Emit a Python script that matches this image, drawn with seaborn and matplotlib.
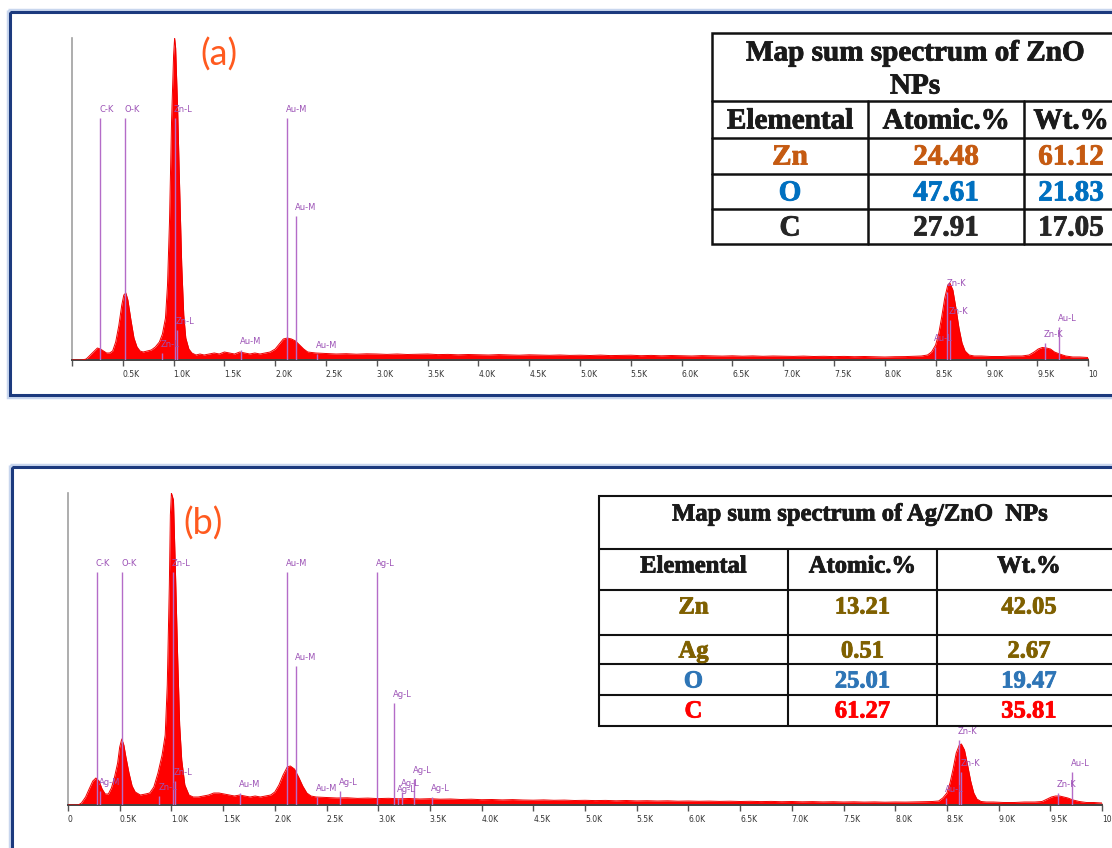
import numpy as np
import pandas as pd
import matplotlib
matplotlib.use("Agg")
import matplotlib.pyplot as plt
import matplotlib.patheffects as pe
import seaborn as sns
from matplotlib.patches import Rectangle

# ---------------- DATA ----------------
# (a) ZnO NPs : EDX spectrum (energy keV, counts a.u.)
energy_a_low = [0.00, 0.10, 0.14, 0.18, 0.22, 0.25, 0.28, 0.31, 0.34, 0.37, 0.40, 0.43, 0.46, 0.49,
                0.51, 0.53, 0.55, 0.58, 0.61, 0.64, 0.67, 0.70, 0.74, 0.78, 0.82, 0.86, 0.89, 0.92,
                0.94, 0.96, 0.98, 1.00, 1.01, 1.02, 1.04, 1.06, 1.08, 1.10, 1.12, 1.15, 1.18, 1.22,
                1.26, 1.30, 1.35, 1.40, 1.45, 1.50, 1.55, 1.60, 1.65, 1.70, 1.75, 1.80, 1.85, 1.90,
                1.95, 2.00, 2.04, 2.08, 2.12, 2.16, 2.20, 2.24, 2.28, 2.32]
counts_a_low = [0, 0, 1, 5, 9, 12, 11, 9, 7, 7, 9, 18, 34, 55,
                65, 67, 60, 40, 22, 13, 9, 8, 9, 10, 13, 18, 26, 42,
                75, 140, 240, 305, 322, 312, 250, 170, 95, 45, 22, 11, 7, 5,
                6, 5, 6, 7, 6, 8, 7, 6, 8, 7, 6, 7, 6, 7,
                8, 11, 16, 21, 22, 21, 19, 15, 11, 8]
bg_energy = [2.4, 2.5, 2.6, 2.7, 2.8, 2.9, 3.0, 3.1, 3.2, 3.3, 3.4, 3.5, 3.6, 3.7, 3.8, 3.9,
             4.0, 4.1, 4.2, 4.3, 4.4, 4.5, 4.6, 4.7, 4.8, 4.9, 5.0, 5.1, 5.2, 5.3, 5.4, 5.5,
             5.6, 5.7, 5.8, 5.9, 6.0, 6.1, 6.2, 6.3, 6.4, 6.5, 6.6, 6.7, 6.8, 6.9, 7.0, 7.1,
             7.2, 7.3, 7.4, 7.5, 7.6, 7.7, 7.8, 7.9, 8.0, 8.1, 8.2, 8.3]
bg_a = [7, 6.5, 6, 6.3, 5.8, 6.2, 6, 5.6, 6, 5.5, 5.8, 6, 5.4, 5.6, 5.2, 5.5,
        5.3, 5, 5.4, 5.1, 4.8, 5.2, 5, 4.7, 5, 4.6, 4.8, 4.5, 4.9, 4.4, 4.6, 4.8,
        4.3, 4.6, 4.2, 4.5, 4.3, 4, 4.4, 4.1, 3.9, 4.2, 3.8, 4.1, 3.7, 4, 3.8, 3.6,
        3.9, 3.5, 3.7, 3.4, 3.6, 3.3, 3.5, 3.2, 3, 3.3, 3.4, 3.8]
energy_high = [8.36, 8.42, 8.46, 8.50, 8.53, 8.56, 8.59, 8.62, 8.64, 8.67, 8.70, 8.73, 8.76, 8.79,
               8.83, 8.88, 8.95, 9.05, 9.15, 9.25, 9.35, 9.42, 9.47, 9.51, 9.55, 9.59, 9.63, 9.67,
               9.72, 9.78, 9.85, 9.92, 10.0]
counts_a_high = [4, 5, 8, 15, 26, 43, 62, 75, 77, 70, 52, 32, 17, 9,
                 5, 4, 4, 3.5, 3.5, 4, 4, 5, 8, 11, 12.5, 12, 11, 8,
                 6, 4, 3, 3, 2.5]

# (b) Ag/ZnO NPs : EDX spectrum
energy_b_low = [0.00, 0.10, 0.13, 0.17, 0.20, 0.24, 0.27, 0.30, 0.33, 0.36, 0.39, 0.42, 0.45, 0.48,
                0.50, 0.52, 0.54, 0.56, 0.59, 0.62, 0.65, 0.70, 0.75, 0.79, 0.83, 0.87, 0.91, 0.94,
                0.96, 0.98, 0.99, 1.00, 1.02, 1.04, 1.06, 1.08, 1.10, 1.13, 1.17, 1.21, 1.26, 1.31,
                1.36, 1.41, 1.46, 1.51, 1.56, 1.61, 1.66, 1.71, 1.76, 1.81, 1.86, 1.91, 1.96, 2.00,
                2.04, 2.08, 2.12, 2.15, 2.19, 2.23, 2.27, 2.31, 2.35]
counts_b_low = [0, 0, 2, 8, 15, 24, 27, 24, 16, 11, 11, 17, 28, 42,
                58, 66, 60, 48, 32, 19, 13, 10, 11, 12, 18, 32, 50, 70,
                120, 220, 290, 312, 305, 230, 150, 80, 45, 20, 10, 8, 8, 9,
                10, 12, 12, 11, 10, 9, 10, 9, 8, 9, 8, 9, 10, 13,
                20, 30, 38, 39, 36, 28, 19, 12, 9]
bg_b = [8, 7.5, 7, 7.2, 6.6, 6.9, 6.4, 6.7, 6.2, 6.5, 6, 6.3, 5.8, 6, 5.5, 5.8,
        5.3, 5.5, 5.1, 5.4, 5, 4.8, 5.1, 4.7, 4.9, 4.5, 4.7, 4.4, 4.6, 4.2, 4.5, 4.1,
        4.3, 4, 4.2, 3.8, 4, 3.7, 3.9, 3.6, 3.8, 3.5, 3.7, 3.4, 3.6, 3.3, 3.5, 3.2,
        3.4, 3.1, 3.3, 3, 3.2, 2.9, 3.1, 2.8, 3, 2.9, 3.1, 3.3]
counts_b_high = [3.5, 4, 7, 12, 22, 36, 52, 60, 61, 55, 40, 24, 12, 6,
                 3.5, 3, 3, 2.5, 2.5, 3, 3, 3.5, 6, 8, 9, 9, 8, 7,
                 5, 3.5, 2.5, 2.5, 2]

# element marker lines (label, energy keV, marker height a.u.)
marker_labels_a = ["C-K", "O-K", "Zn-L", "Au-M", "Au-M", "Zn-L", "Zn-L", "Au-M", "Au-M",
                   "Zn-K", "Zn-K", "Au-L", "Zn-K", "Au-L"]
marker_energy_a = [0.277, 0.525, 1.012, 2.120, 2.205, 1.034, 0.884, 1.660, 2.410,
                   8.615, 8.638, 8.494, 9.572, 9.713]
marker_height_a = [242, 242, 242, 242, 144, 30, 7, 10, 6, 68, 40, 13, 17, 33]

marker_labels_b = ["C-K", "O-K", "Zn-L", "Au-M", "Au-M", "Ag-L", "Ag-L", "Ag-M", "Zn-L", "Zn-L",
                   "Au-M", "Au-M", "Ag-L", "Ag-L", "Ag-L", "Ag-L", "Ag-L",
                   "Zn-K", "Zn-K", "Au-L", "Zn-K", "Au-L"]
marker_energy_b = [0.277, 0.525, 1.012, 2.120, 2.205, 2.984, 3.151, 0.310, 1.034, 0.884,
                   1.660, 2.410, 2.634, 3.190, 3.230, 3.348, 3.520,
                   8.615, 8.638, 8.494, 9.572, 9.713]
marker_height_b = [233, 233, 233, 233, 139, 233, 102, 14, 24, 9,
                   12, 8, 14, 7, 13, 26, 8,
                   65, 33, 7, 12, 33]

tick_values = [0.0, 0.5, 1.0, 1.5, 2.0, 2.5, 3.0, 3.5, 4.0, 4.5, 5.0, 5.5, 6.0, 6.5, 7.0,
               7.5, 8.0, 8.5, 9.0, 9.5, 10.0]
tick_labels_a = ["", "0.5K", "1.0K", "1.5K", "2.0K", "2.5K", "3.0K", "3.5K", "4.0K", "4.5K", "5.0K",
                 "5.5K", "6.0K", "6.5K", "7.0K", "7.5K", "8.0K", "8.5K", "9.0K", "9.5K", "10"]
tick_labels_b = ["0"] + tick_labels_a[1:]

# tables
table_a_title = ["Map sum spectrum of ZnO", "NPs"]
table_a_header = ["Elemental", "Atomic.%", "Wt.%"]
table_a_elements = ["Zn", "O", "C"]
table_a_atomic = ["24.48", "47.61", "27.91"]
table_a_wt = ["61.12", "21.83", "17.05"]
table_a_colors = ["#c55a11", "#0070c0", "#262626"]

table_b_title = ["Map sum spectrum of Ag/ZnO  NPs"]
table_b_header = ["Elemental", "Atomic.%", "Wt.%"]
table_b_elements = ["Zn", "Ag", "O", "C"]
table_b_atomic = ["13.21", "0.51", "25.01", "61.27"]
table_b_wt = ["42.05", "2.67", "19.47", "35.81"]
table_b_colors = ["#7f6000", "#7f6000", "#2e75b6", "#ff0000"]

# ---------------- FIGURE ----------------
sns.set_style("white")
plt.rcParams["font.family"] = ["DejaVu Sans"]

W, H = 1112, 848
fig = plt.figure(figsize=(W / 100, H / 100), dpi=100)
fig.patch.set_facecolor("white")


def px_axes(l, r, t, b):
    return fig.add_axes([l / W, 1 - b / H, (r - l) / W, (b - t) / H])


def draw_spectrum(ax, E, C, ymax, labels, energies, heights, ticklabels):
    df = pd.DataFrame({"energy": E, "counts": C})
    ax.fill_between(df["energy"], 0, df["counts"], color="#ff0000", lw=0, zorder=2)
    sns.lineplot(data=df, x="energy", y="counts", ax=ax, color="#ee0000", lw=0.7, zorder=3)
    mk = pd.DataFrame({"label": labels, "energy": energies, "height": heights})
    ax.vlines(mk["energy"], 0, mk["height"], color="#b46cc8", lw=1.0, zorder=4)
    for _, r in mk.iterrows():
        ax.annotate(r["label"], (r["energy"], r["height"]), xytext=(-1, 4),
                    textcoords="offset pixels", fontsize=6, color="#9c52b6",
                    ha="left", va="bottom", annotation_clip=False, zorder=5)
    ax.set_xlim(0, 10)
    ax.set_ylim(0, ymax)
    ax.set_xticks(tick_values)
    ax.set_xticklabels(ticklabels)
    for t in ax.get_xticklabels():
        t.set_ha("left")
    ax.set_yticks([])
    ax.set_xlabel("")
    ax.set_ylabel("")
    ax.tick_params(axis="x", bottom=True, direction="out", length=4, width=1,
                   color="#555555", labelsize=5.5, labelcolor="#333333", pad=3)
    for s in ["top", "right"]:
        ax.spines[s].set_visible(False)
    ax.spines["left"].set_color("#a0a0a0")
    ax.spines["left"].set_linewidth(1.2)
    ax.spines["bottom"].set_color("#444444")
    ax.spines["bottom"].set_linewidth(1.4)
    ax.set_facecolor("none")


ax_a = px_axes(72, 1088, 38, 360)
draw_spectrum(ax_a, energy_a_low + bg_energy + energy_high,
              counts_a_low + bg_a + counts_a_high, 322,
              marker_labels_a, marker_energy_a, marker_height_a, tick_labels_a)

ax_b = px_axes(68, 1102, 493, 805)
draw_spectrum(ax_b, energy_b_low + bg_energy + energy_high,
              counts_b_low + bg_b + counts_b_high, 312,
              marker_labels_b, marker_energy_b, marker_height_b, tick_labels_b)

# overlay in pixel coordinates for frames and tables
ov = fig.add_axes([0, 0, 1, 1], zorder=10)
ov.set_xlim(0, W)
ov.set_ylim(H, 0)
ov.axis("off")
ov.patch.set_alpha(0)

for (x0, y0, x1, y1) in [(9.5, 11.5, 1140, 395), (11.5, 466.5, 1140, 900)]:
    ov.add_patch(Rectangle((x0 - 2, y0 - 2), x1 - x0 + 4, y1 - y0 + 4, fill=False,
                           ec="#c8d6ee", lw=2.5))
    ov.add_patch(Rectangle((x0, y0), x1 - x0, y1 - y0, fill=False, ec="#1c3a7e", lw=2.2))

ov.text(219, 55, "(a)", fontsize=26, color="#ff5a1f", ha="center", va="center", family="Lato")
ov.text(203, 524, "(b)", fontsize=26, color="#ff5a1f", ha="center", va="center", family="Lato")

serif = "Liberation Serif"


def btext(x, y, s, fs, color):
    ov.text(x, y, s, fontsize=fs, fontweight="bold", family=serif, color=color,
            ha="center", va="center", zorder=3,
            path_effects=[pe.withStroke(linewidth=0.6, foreground=color)])


def draw_table(xe, ye, title, title_y, header, header_y, elements, atomic, wt, colors,
               row_y, fs, lw):
    ov.add_patch(Rectangle((xe[0], ye[0]), xe[-1] - xe[0], ye[-1] - ye[0],
                           fc="white", ec="#111111", lw=lw, zorder=1))
    for y in ye[1:-1]:
        ov.plot([xe[0], xe[-1]], [y, y], color="#111111", lw=lw, zorder=2)
    for x in xe[1:-1]:
        ov.plot([x, x], [ye[1], ye[-1]], color="#111111", lw=lw, zorder=2)
    cx = (xe[0] + xe[-1]) / 2
    for line, y in zip(title, title_y):
        btext(cx, y, line, fs, "#1a1a1a")
    cols = [(xe[i] + xe[i + 1]) / 2 for i in range(3)]
    for h, x in zip(header, cols):
        btext(x, header_y, h, fs, "#1a1a1a")
    for el, at, w, c, y in zip(elements, atomic, wt, colors, row_y):
        for txt, x in zip([el, at, w], cols):
            btext(x, y, txt, fs, c)


draw_table([712, 868, 1024, 1118], [33, 101, 138, 174, 209, 244],
           table_a_title, [53, 86], table_a_header, 121,
           table_a_elements, table_a_atomic, table_a_wt, table_a_colors,
           [157, 193, 228], 21, 1.8)

draw_table([599, 788, 937, 1121], [496, 549, 590, 635, 664, 695, 726],
           table_b_title, [514], table_b_header, 566,
           table_b_elements, table_b_atomic, table_b_wt, table_b_colors,
           [607, 651, 681, 711], 17.7, 1.5)

fig.savefig("out.png", dpi=100, facecolor="white")
